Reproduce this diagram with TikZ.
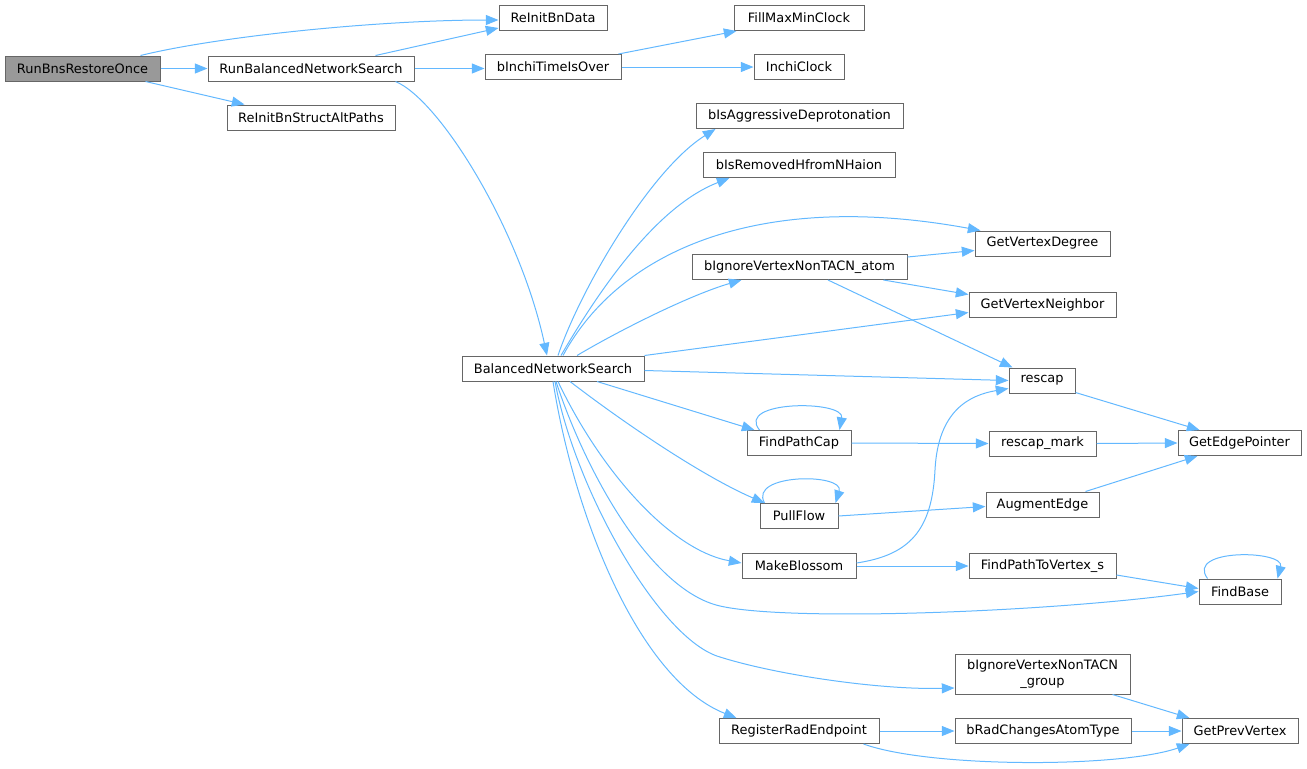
\documentclass[tikz,border=0pt]{standalone}
\usepackage{fontspec}
\setmainfont{DejaVu Sans}
\usetikzlibrary{arrows.meta,calc}

\definecolor{edgeblue}{HTML}{63B8FF}
\definecolor{boxgray}{HTML}{666666}
\definecolor{rootgray}{HTML}{999999}

\tikzset{
	fnbox/.style={draw=boxgray, fill=white, line width=.75pt, minimum width=#1*0.75pt,
		minimum height=18.75pt, inner sep=0pt, align=center,
		font=\fontsize{9.7pt}{11.5pt}\selectfont},
	call/.style={draw=edgeblue, line width=.75pt, -{Triangle[length=9.5pt,width=7.5pt]}},
}

\begin{document}
\begin{tikzpicture}[x=0.75pt, y=-0.75pt]
	\useasboundingbox (0,0) rectangle (1307,768);
	
	\node[fnbox=155, fill=rootgray] (run) at (82.5,68.5) {RunBnsRestoreOnce};
	\foreach \n/\cx/\cy/\w/\t in {rbns/311/68.5/206/RunBalancedNetworkSearch,
		altp/311/117.5/168/ReInitBnStructAltPaths, data/553/18/108/ReInitBnData,
		over/553/67/136/bInchiTimeIsOver, fmmc/799/18/130/FillMaxMinClock,
		clock/799/67/90/InchiClock, aggr/799.5/116/207/bIsAggressiveDeprotonation,
		remh/799/165/192/bIsRemovedHfromNHaion, bns/553/368.5/182/BalancedNetworkSearch,
		atom/799.5/267/215/bIgnoreVertexNonTACN\_atom, deg/1042.5/243.5/135/GetVertexDegree,
		nbr/1042.5/304.5/147/GetVertexNeighbor, rescap/1042/380.5/66/rescap,
		cap/799/443/104/FindPathCap, mark/1042.5/443.5/107/rescap\_mark,
		edgep/1239.5/443/123/GetEdgePointer, pull/799/516/78/PullFlow,
		aug/1042.5/504.5/113/AugmentEdge, blos/799/566/114/MakeBlossom,
		ptv/1042.5/566/147/FindPathToVertex\_s, base/1240/591.5/82/FindBase,
		rad/799/731/160/RegisterRadEndpoint, rtype/1043/731/176/bRadChangesAtomType,
		prev/1240/731/116/GetPrevVertex}
	\node[fnbox=\w] (\n) at (\cx,\cy) {\t};
	\node[fnbox=175, minimum height=30pt] (grp) at (1042.5,674) {bIgnoreVertexNonTACN\\\_group};
	
	% calls out of the root
	\draw[call] ($(run.north east)+(-20,0)$) .. controls (220,36) and (380,20) .. ($(data.west)+(0,2)$);
	\draw[call] (run.east) -- (rbns.west);
	\draw[call] ($(run.south east)+(-15,0)$) -- ($(altp.north west)+(18,0)$);
	\draw[call] ($(rbns.north east)+(-39,0)$) -- ($(data.south west)+(0,-3)$);
	\draw[call] (rbns.east) -- (rbns.east -| over.west);
	\draw[call] ($(rbns.south east)+(-19,0)$) .. controls (440,100) and (520,230) .. ($(bns.north)+(-6,0)$);
	\draw[call] ($(over.north east)+(-3,0)$) -- ($(fmmc.south west)+(3,0)$);
	\draw[call] (over.east) -- (clock.west);
	
	% calls out of BalancedNetworkSearch
	\draw[call] ($(bns.north)+(5,0)$) .. controls (580,290) and (650,170) .. ($(aggr.south west)+(20,0)$);
	\draw[call] ($(bns.north)+(8,0)$) .. controls (605,280) and (660,205) .. ($(remh.south west)+(27,0)$);
	\draw[call] ($(bns.north)+(10,0)$) .. controls (620,250) and (760,190) .. ($(deg.north west)+(6,0)$);
	\draw[call] ($(bns.north)+(24,0)$) .. controls (620,330) and (690,295) .. ($(atom.south west)+(50,0)$);
	\draw[call] (bns.north east) -- ($(nbr.south west)+(0,-5)$);
	\draw[call] ($(bns.east)+(0,2)$) -- (rescap.west);
	\draw[call] ($(bns.south)+(44,0)$) -- ($(cap.north west)+(8,0)$);
	\draw[call] ($(bns.south)+(17,0)$) .. controls (620,420) and (700,475) .. ($(pull.north west)+(5,0)$);
	\draw[call] ($(bns.south)+(5,0)$) .. controls (600,470) and (670,550) .. ($(blos.west)+(0,-3)$);
	\draw[call] ($(bns.south)+(3,0)$) .. controls (585,470) and (650,590) .. (720,606)
		.. controls (790,622) and (1050,612) .. (base.west);
	\draw[call] ($(bns.south)+(2,0)$) .. controls (575,490) and (660,640) .. (720,657)
		.. controls (777,675) and (880,690) .. ($(grp.west)+(0,14)$);
	\draw[call] (bns.south) .. controls (575,520) and (640,680) .. ($(rad.north west)+(18,0)$);
	
	% self calls
	\draw[call] ($(cap.north west)+(13,0)$) .. controls (735,400) and (845,400) .. ($(cap.north east)+(-12,0)$);
	\draw[call] ($(pull.north west)+(5,0)$) .. controls (748,473) and (845,473) .. ($(pull.north east)+(-3,0)$);
	\draw[call] ($(base.north west)+(9,0)$) .. controls (1185,548) and (1285,550) .. ($(base.north east)+(-4,0)$);
	
	% the rest
	\draw[call] ($(atom.north east)+(0,3)$) -- ($(deg.west)+(0,7)$);
	\draw[call] ($(atom.south east)+(-24,0)$) -- ($(nbr.west)+(0,-10)$);
	\draw[call] ($(atom.south)+(28.5,0)$) -- ($(rescap.north west)+(4,0)$);
	\draw[call] (cap.east) -- (mark.west);
	\draw[call] (pull.east) -- ($(aug.west)+(0,2)$);
	\draw[call] ($(blos.east)+(0,-3)$) .. controls (910,555) and (932,530) .. (935,470)
		.. controls (938,410) and (970,395) .. ($(rescap.south west)+(0,-5)$);
	\draw[call] (blos.east) -- (ptv.west);
	\draw[call] ($(rescap.south east)+(0,-1)$) -- ($(edgep.north west)+(22,0)$);
	\draw[call] (mark.east) -- (edgep.west);
	\draw[call] ($(aug.north east)+(-14,0)$) -- ($(edgep.south west)+(20,0)$);
	\draw[call] ($(ptv.south east)+(0,-4)$) -- ($(base.west)+(0,-3)$);
	\draw[call] ($(grp.south east)+(-18,0)$) -- ($(prev.north west)+(8,0)$);
	\draw[call] (rad.east) -- (rtype.west);
	\draw[call] (rtype.east) -- (prev.west);
	\draw[call] ($(rad.south east)+(-16,0)$) .. controls (930,768) and (1120,768) .. ($(prev.south west)+(8,0)$);
\end{tikzpicture}
\end{document}
